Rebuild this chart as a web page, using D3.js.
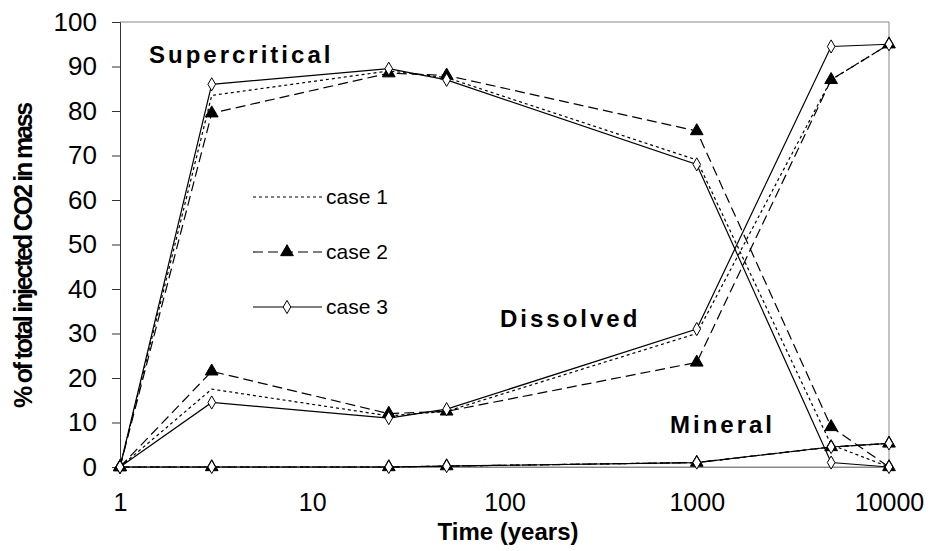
<!DOCTYPE html>
<html>
<head>
<meta charset="utf-8">
<script src="https://cdn.jsdelivr.net/npm/d3@7"></script>
<style>
  body { margin: 0; background: #fff; }
  text { font-family: "Liberation Sans", Arial, sans-serif; }
</style>
</head>
<body>
<div id="container"></div>
<script>
/**
 * DATA
 * */
const years = [1, 3, 25, 50, 1000, 5000, 10000];

// supercritical fraction (%)
const superCase1 = [0, 83.5, 89, 87.5, 69, 5, 0];
const superCase2 = [0, 79.5, 88.5, 88, 75.5, 9, 0];
const superCase3 = [0, 86, 89.5, 87, 68, 1, 0];

// dissolved fraction (%)
const dissCase1 = [0, 17.5, 11.5, 12.5, 30, 87, 95];
const dissCase2 = [0, 21.5, 12, 12.5, 23.5, 87, 95];
const dissCase3 = [0, 14.5, 11, 13, 31, 94.5, 95];

// mineral fraction (%)
const minCase1 = [0, 0, 0, 0.2, 1, 4.5, 5.3];
const minCase2 = [0, 0, 0, 0.2, 1, 4.5, 5.3];
const minCase3 = [0, 0, 0, 0.2, 1, 4.5, 5.3];

const xTicks = [1, 10, 100, 1000, 10000];
const yTicks = [0, 10, 20, 30, 40, 50, 60, 70, 80, 90, 100];
const caseNames = ["case 1", "case 2", "case 3"];

/**
 * CONSTANTS
 * */
const width = 931, height = 551;
const margin = { top: 22, right: 42, bottom: 84, left: 120 };

const styles = {
  "case 1": { dash: "3,3", marker: null },
  "case 2": { dash: "10,5", marker: "triangle" },
  "case 3": { dash: null, marker: "diamond" }
};

const series = [
  { name: "case 1", values: superCase1 },
  { name: "case 2", values: superCase2 },
  { name: "case 3", values: superCase3 },
  { name: "case 1", values: dissCase1 },
  { name: "case 2", values: dissCase2 },
  { name: "case 3", values: dissCase3 },
  { name: "case 1", values: minCase1 },
  { name: "case 2", values: minCase2 },
  { name: "case 3", values: minCase3 }
];

const svg = d3.select("#container")
  .append("svg")
  .attr("width", width)
  .attr("height", height);

const x = d3.scaleLog()
  .domain([1, 10000])
  .range([margin.left, width - margin.right]);

const y = d3.scaleLinear()
  .domain([0, 100])
  .range([height - margin.bottom, margin.top]);

// frame (top & right in grey)
svg.append("path")
  .attr("d", `M${x(1)},${y(100)}H${x(10000)}V${y(0)}H${x(1)}`)
  .attr("fill", "none")
  .attr("stroke", "#888")
  .attr("stroke-width", 1);

// y axis
const yAxis = svg.append("g")
  .attr("transform", `translate(${x(1)},0)`)
  .call(d3.axisLeft(y).tickValues(yTicks).tickSize(8).tickPadding(15));
yAxis.select(".domain").attr("stroke", "#333");
yAxis.selectAll(".tick line").attr("stroke", "#333");
yAxis.selectAll("text")
  .attr("font-size", 26)
  .attr("fill", "#000")
  .attr("font-family", "Liberation Sans, Arial, sans-serif");

// x axis
const xAxis = svg.append("g")
  .attr("transform", `translate(0,${y(0)})`)
  .call(d3.axisBottom(x).tickValues(xTicks).tickFormat(d3.format("d")).tickSize(0).tickPadding(26));
xAxis.select(".domain").attr("stroke", "#888");
xAxis.selectAll("text")
  .attr("font-size", 25)
  .attr("fill", "#000")
  .attr("font-family", "Liberation Sans, Arial, sans-serif");

// axis titles
svg.append("text")
  .attr("x", 508)
  .attr("y", 540)
  .attr("text-anchor", "middle")
  .attr("font-size", 24)
  .attr("font-weight", "bold")
  .text("Time (years)");

svg.append("text")
  .attr("transform", `translate(32,256) rotate(-90)`)
  .attr("text-anchor", "middle")
  .attr("font-size", 25)
  .attr("font-weight", "bold")
  .attr("letter-spacing", -2.2)
  .text("% of total injected CO2 in mass");

// lines
const line = d3.line()
  .x((d, i) => x(years[i]))
  .y(d => y(d));

svg.selectAll(".series")
  .data(series)
  .join("path")
  .attr("class", "series")
  .attr("d", d => line(d.values))
  .attr("fill", "none")
  .attr("stroke", "#000")
  .attr("stroke-width", 1.2)
  .attr("stroke-dasharray", d => styles[d.name].dash);

// markers
const tri = d3.symbol().type(d3.symbolTriangle).size(70);
const dia = d3.symbol().type(d3.symbolDiamond).size(50);

function drawMarker(sel, kind) {
  if (kind === "triangle") {
    sel.attr("d", tri()).attr("fill", "#000").attr("stroke", "#000");
  } else {
    sel.attr("d", dia()).attr("fill", "#fff").attr("stroke", "#000").attr("stroke-width", 1);
  }
}

series.filter(s => styles[s.name].marker).forEach(s => {
  svg.append("g")
    .selectAll("path")
    .data(s.values)
    .join("path")
    .attr("transform", (d, i) => `translate(${x(years[i])},${y(d)})`)
    .call(drawMarker, styles[s.name].marker);
});

// legend
const legend = svg.append("g");
caseNames.forEach((name, i) => {
  const ly = 197 + i * 55;
  legend.append("line")
    .attr("x1", 253).attr("x2", 322)
    .attr("y1", ly).attr("y2", ly)
    .attr("stroke", "#000")
    .attr("stroke-width", 1.2)
    .attr("stroke-dasharray", styles[name].dash);
  if (styles[name].marker) {
    legend.append("path")
      .attr("transform", `translate(287,${ly})`)
      .call(drawMarker, styles[name].marker);
  }
  legend.append("text")
    .attr("x", 326)
    .attr("y", ly + 7)
    .attr("font-size", 21)
    .text(name);
});

// region labels
const labels = [
  { text: "Supercritical", x: 149, y: 63 },
  { text: "Dissolved", x: 500, y: 327 },
  { text: "Mineral", x: 670, y: 433 }
];
svg.selectAll(".region")
  .data(labels)
  .join("text")
  .attr("class", "region")
  .attr("x", d => d.x)
  .attr("y", d => d.y)
  .attr("font-size", 24)
  .attr("font-weight", "bold")
  .attr("letter-spacing", 3)
  .text(d => d.text);
</script>
</body>
</html>
